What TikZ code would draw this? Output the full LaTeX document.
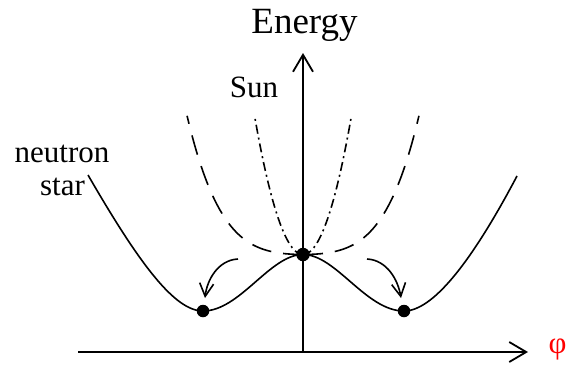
\documentclass[tikz,border=0pt]{standalone}
\usepackage{fontspec}
\setmainfont{Liberation Serif}
\usetikzlibrary{arrows.meta}
\begin{document}
\begin{tikzpicture}[x=1pt,y=-1pt,
  axis/.style={line width=1.8pt,-{Straight Barb[length=17pt,width=20pt,line width=1.8pt]}},
  curve/.style={line width=1.6pt},
  dot/.style={circle,fill=black,inner sep=0pt,minimum size=12.5pt},
  bendarrow/.style={line width=1.6pt,-{Straight Barb[length=13pt,width=14pt,line width=1.6pt]}},
  lab/.style={font=\rmfamily\fontsize{31}{36}\selectfont,anchor=base}]
\useasboundingbox (0,0) rectangle (569,367);
% axes
\coordinate (O) at (303,352);
\coordinate (xstart) at (78,352);
\coordinate (xend) at (528,352);
\coordinate (yend) at (303,53);
\draw[axis] (xstart) -- (xend);
\draw[axis] (O) -- (yend);
% key points
\coordinate (L) at (88,175);
\coordinate (mL) at (203,311);
\coordinate (top) at (303,254.5);
\coordinate (mR) at (404,311);
\coordinate (R) at (517,176);
% solid double well
\draw[curve] (L) .. controls (140,265) and (175,311) .. (mL)
  .. controls (240,311) and (270,254.5) .. (top)
  .. controls (336,254.5) and (366,311) .. (mR)
  .. controls (432,311) and (470,265) .. (R);
% dashed
\draw[curve,dash pattern=on 20pt off 12pt] plot[domain=0:1,samples=60] ({303+116*\x},{254.5-32*\x*\x-107*\x*\x*\x*\x});
\draw[curve,dash pattern=on 20pt off 12pt] plot[domain=0:1,samples=60] ({303-116*\x},{254.5-32*\x*\x-107*\x*\x*\x*\x});
% dash-dot (Sun)
\draw[curve,dash pattern=on 9pt off 4pt on 2pt off 4pt] plot[domain=0:1,samples=60] ({303+48.5*\x},{254.5-139*\x*\x});
\draw[curve,dash pattern=on 9pt off 4pt on 2pt off 4pt] plot[domain=0:1,samples=60] ({303-48.5*\x},{254.5-139*\x*\x});
% curved arrows
\coordinate (la) at (238,259);
\coordinate (lb) at (205,298);
\coordinate (ra) at (367,259);
\coordinate (rb) at (401,298);
\draw[bendarrow] (la) .. controls (218,260) and (207,280) .. (lb);
\draw[bendarrow] (ra) .. controls (387,260) and (398,280) .. (rb);
% dots
\node[dot] (dL) at (mL) {};
\node[dot,minimum size=13.5pt] (dT) at (top) {};
\node[dot] (dR) at (mR) {};
% labels
\node[font=\rmfamily\fontsize{37}{44}\selectfont,anchor=base] (energy) at (304.5,33) {Energy};
\node[lab] (sun) at (254,97) {Sun};
\node[lab] (neutron) at (62,162) {neutron};
\node[lab] (star) at (62.5,195) {star};
\node[lab,text=red] (phi) at (557.5,353) {φ};
\end{tikzpicture}
\end{document}
